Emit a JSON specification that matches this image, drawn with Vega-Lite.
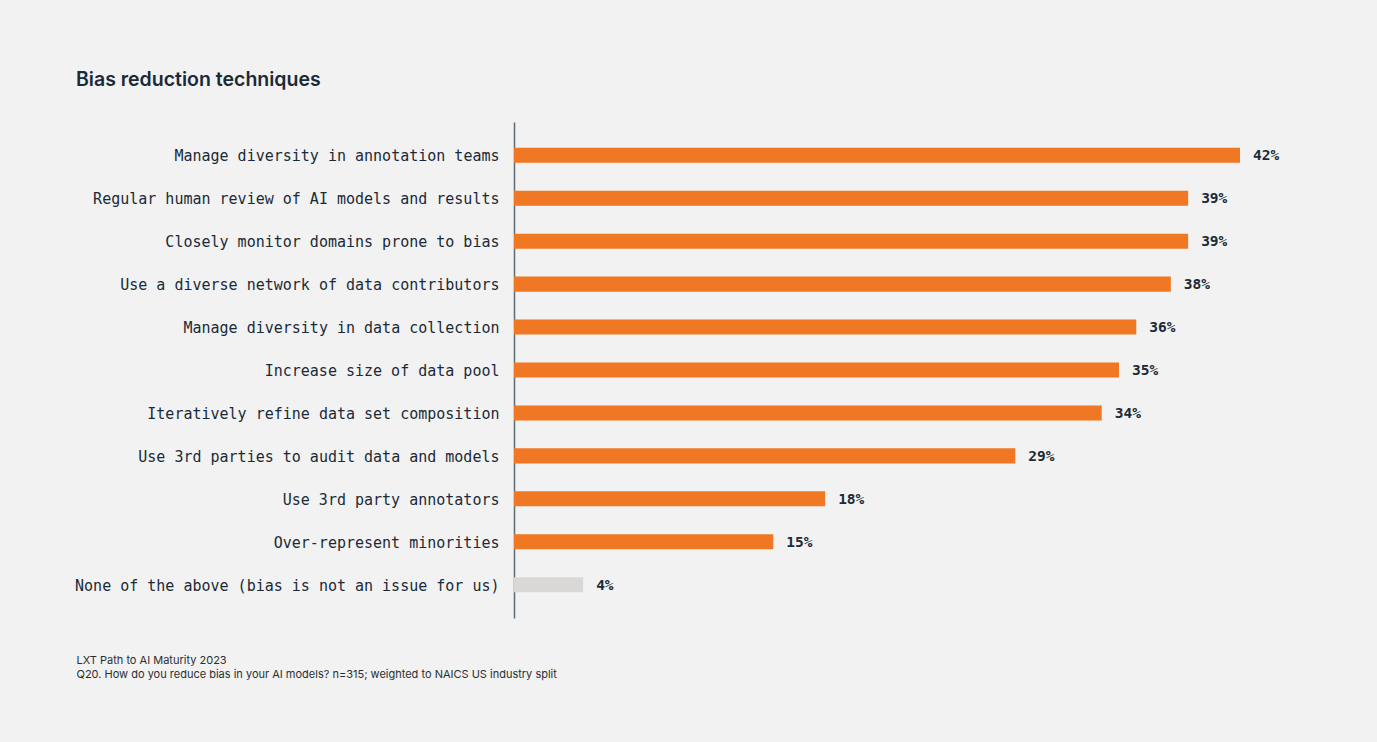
{
  "$schema": "https://vega.github.io/schema/vega-lite/v6.json",
  "autosize": {"type": "none"},
  "width": 726,
  "height": 496,
  "padding": {"left": 514, "top": 122, "right": 137, "bottom": 124},
  "background": "#f1f2f1",
  "title": {
    "text": "Bias reduction techniques",
    "anchor": "start",
    "frame": "group",
    "dx": -438,
    "offset": 32,
    "font": "Inter",
    "fontSize": 19.5,
    "fontWeight": 600,
    "color": "#1b2a38"
  },
  "data": {
    "values": [
      {"technique": "Manage diversity in annotation teams", "pct": 42, "label": "42%", "group": "yes"},
      {"technique": "Regular human review of AI models and results", "pct": 39, "label": "39%", "group": "yes"},
      {"technique": "Closely monitor domains prone to bias", "pct": 39, "label": "39%", "group": "yes"},
      {"technique": "Use a diverse network of data contributors", "pct": 38, "label": "38%", "group": "yes"},
      {"technique": "Manage diversity in data collection", "pct": 36, "label": "36%", "group": "yes"},
      {"technique": "Increase size of data pool", "pct": 35, "label": "35%", "group": "yes"},
      {"technique": "Iteratively refine data set composition", "pct": 34, "label": "34%", "group": "yes"},
      {"technique": "Use 3rd parties to audit data and models", "pct": 29, "label": "29%", "group": "yes"},
      {"technique": "Use 3rd party annotators", "pct": 18, "label": "18%", "group": "yes"},
      {"technique": "Over-represent minorities", "pct": 15, "label": "15%", "group": "yes"},
      {"technique": "None of the above (bias is not an issue for us)", "pct": 4, "label": "4%", "group": "none"}
    ]
  },
  "encoding": {
    "y": {
      "field": "technique",
      "type": "nominal",
      "sort": null,
      "scale": {"paddingInner": 0.65, "paddingOuter": 0.6},
      "axis": {
        "title": null,
        "ticks": false,
        "labelPadding": 15,
        "labelFont": "DejaVu Sans Mono",
        "labelFontSize": 15,
        "labelColor": "#1b2a38",
        "labelLimit": 600,
        "labelOffset": 1,
        "domainColor": "#5d6b77",
        "domainWidth": 1.5
      }
    },
    "x": {
      "field": "pct",
      "type": "quantitative",
      "scale": {"domain": [0, 42], "nice": false},
      "axis": {
        "title": ["LXT Path to AI Maturity 2023", "Q20. How do you reduce bias in your AI models? n=315; weighted to NAICS US industry split"],
        "titleFont": "Inter",
        "titleFontSize": 11,
        "titleFontWeight": 400,
        "titleColor": "#2a2f33",
        "titleAnchor": "start",
        "titleAlign": "left",
        "titleX": -438,
        "titleY": 36,
        "titleLineHeight": 14,
        "titleBaseline": "top",
        "labels": false,
        "ticks": false,
        "domain": false,
        "grid": false
      }
    }
  },
  "layer": [
    {
      "mark": {"type": "bar"},
      "encoding": {
        "color": {
          "field": "group",
          "type": "nominal",
          "scale": {"domain": ["yes", "none"], "range": ["#f07723", "#d9d8d6"]},
          "legend": null
        }
      }
    },
    {
      "mark": {
        "type": "text",
        "align": "left",
        "dx": 13,
        "dy": 1,
        "font": "DejaVu Sans Mono",
        "fontWeight": "bold",
        "fontSize": 14.5,
        "color": "#1b2a38"
      },
      "encoding": {
        "text": {"field": "label", "type": "nominal"}
      }
    }
  ],
  "config": {"view": {"stroke": null}}
}
